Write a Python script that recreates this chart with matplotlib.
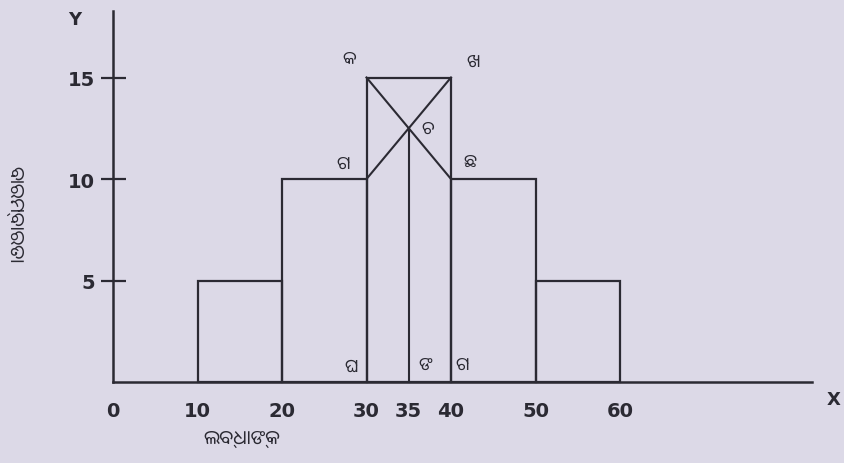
import matplotlib
matplotlib.use("Agg")
import matplotlib.pyplot as plt
import numpy as np

# ---- data ----
class_starts = [10, 20, 30, 40, 50]
class_width = 10
frequencies = [5, 10, 15, 10, 5]
x_tick_values = [0, 10, 20, 30, 35, 40, 50, 60]
y_tick_values = [5, 10, 15]
x_label = "ଲବ୍ଧାଙ୍କ"
y_label = "ବାରମ୍ବାରତା"
point_labels = ["କ", "ଖ", "ଗ", "ଛ", "ଚ", "ଘ", "ଙ", "ଗ"]

BG = "#dcd9e7"
INK = "#2b2a33"
FONTS = ["Noto Sans Oriya", "Noto Sans", "DejaVu Sans"]

plt.rcParams['font.family'] = FONTS

fig = plt.figure(figsize=(8.44, 4.64), dpi=100, facecolor=BG)
ax = fig.add_axes([0, 0, 1, 1])
ax.set_facecolor(BG)

sx = 8.45   # px per x unit
sy = 20.3   # px per y unit
x0_px, y0_px = 113, 383
ax.set_xlim(-x0_px / sx, (844 - x0_px) / sx)
ax.set_ylim(-(464 - y0_px) / sy, y0_px / sy)

# histogram bars (outlines)
ax.bar(class_starts, frequencies, width=class_width, align='edge',
       fill=False, edgecolor=INK, linewidth=1.6, zorder=3)

# mode construction
m = int(np.argmax(frequencies))
xl = class_starts[m]
xr = class_starts[m] + class_width
fm, fprev, fnext = frequencies[m], frequencies[m - 1], frequencies[m + 1]
ax.plot([xl, xr], [fm, fnext], color=INK, lw=1.5, zorder=3)
ax.plot([xr, xl], [fm, fprev], color=INK, lw=1.5, zorder=3)
d1 = fm - fprev
d2 = fm - fnext
xm = xl + d1 / (d1 + d2) * class_width
ym = fprev + (fm - fprev) * (xm - xl) / class_width
ax.plot([xm, xm], [0, ym], color=INK, lw=1.5, zorder=3)

# axes lines via spines
for s in ['top', 'right']:
    ax.spines[s].set_visible(False)
ax.spines['left'].set_position(('data', 0))
ax.spines['bottom'].set_position(('data', 0))
ax.spines['left'].set_bounds(0, (y0_px - 12) / sy)
ax.spines['bottom'].set_bounds(0, (812 - x0_px) / sx)
for s in ['left', 'bottom']:
    ax.spines[s].set_color(INK)
    ax.spines[s].set_linewidth(1.8)

ax.set_yticks(y_tick_values)
ax.set_yticklabels([str(v) for v in y_tick_values])
ax.tick_params(axis='y', direction='inout', length=18, width=1.6, color=INK,
               pad=4, labelsize=14, labelcolor=INK)
ax.set_xticks(x_tick_values)
ax.set_xticklabels([str(v) for v in x_tick_values])
ax.tick_params(axis='x', length=0, pad=14, labelsize=14, labelcolor=INK)
ax.set_xticks([xl, xr], minor=True)
ax.tick_params(axis='x', which='minor', direction='out', length=6, width=1.6, color=INK)
for lab in ax.get_xticklabels() + ax.get_yticklabels():
    lab.set_fontweight('bold')
    lab.set_family(["DejaVu Sans"])

# point labels
lab_kw = dict(color=INK, fontsize=13, ha='center', va='center', family=FONTS)
ax.text(xl - 2.0, fm + 1.0, point_labels[0], **lab_kw)
ax.text(xr + 2.6, fm + 0.8, point_labels[1], **lab_kw)
ax.text(xl - 2.8, fprev + 0.8, point_labels[2], **lab_kw)
ax.text(xr + 2.2, fnext + 0.9, point_labels[3], **lab_kw)
ax.text(xm + 2.2, ym, point_labels[4], **lab_kw)
ax.text(xl - 1.8, 0.8, point_labels[5], **lab_kw)
ax.text(xm + 1.9, 0.9, point_labels[6], **lab_kw)
ax.text(xr + 1.3, 0.9, point_labels[7], **lab_kw)

# axis names
ax.text(-4.5, 17.9, "Y", color=INK, fontsize=13, fontweight='bold', ha='center', va='center',
        family=["DejaVu Sans"])
ax.text(85.3, -0.85, "X", color=INK, fontsize=13, fontweight='bold', ha='center', va='center',
        family=["DejaVu Sans"])
ax.text(15.3, -2.75, x_label, color=INK, fontsize=14, ha='center', va='center', family=FONTS)
ax.text(-11.7, 8.3, y_label, color=INK, fontsize=14, ha='center', va='center',
        rotation=270, family=FONTS)

fig.savefig("out.png", dpi=100, facecolor=BG)
